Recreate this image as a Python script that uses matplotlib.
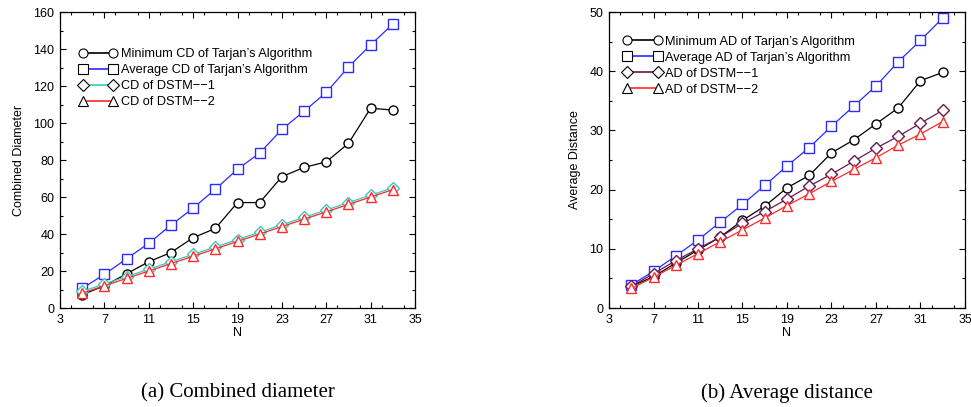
import matplotlib
matplotlib.use("Agg")
import matplotlib.pyplot as plt
from matplotlib.lines import Line2D
from matplotlib.legend_handler import HandlerTuple
from matplotlib.ticker import MultipleLocator

plt.rcParams["font.family"] = ["Liberation Sans", "DejaVu Sans"]

N = [5, 7, 9, 11, 13, 15, 17, 19, 21, 23, 25, 27, 29, 31, 33]
N_TICKS = [3, 7, 11, 15, 19, 23, 27, 31, 35]

# combined diameter
cd_min_tarjan = [7.2, 12, 18.5, 25, 30, 38, 43, 57, 57, 71, 76, 79, 89, 108, 107]
cd_avg_tarjan = [10.6, 18.2, 26.6, 35, 44.8, 54, 64.2, 75, 83.8, 96.5, 106.4, 116.5, 130.3, 142.2, 153.5]
cd_dstm1 = [9, 13, 17, 21, 25, 29, 33, 37, 41, 45, 49, 53, 57, 61, 65]
cd_dstm2 = [8, 12, 16, 20, 24, 28, 32, 36, 40, 44, 48, 52, 56, 60, 64]

# average distance
ad_min_tarjan = [3.65, 5.3, 7.6, 9.8, 12, 14.8, 17.2, 20.3, 22.4, 26.2, 28.4, 31.1, 33.8, 38.4, 39.8]
ad_avg_tarjan = [3.9, 6.2, 8.8, 11.5, 14.5, 17.5, 20.7, 24, 27.1, 30.7, 34.1, 37.5, 41.6, 45.2, 49]
ad_dstm1 = [3.65, 5.8, 8.0, 10, 12, 14.3, 16.3, 18.4, 20.6, 22.6, 24.8, 27, 29, 31.2, 33.4]
ad_dstm2 = [3.3, 5.2, 7.2, 9.2, 11.2, 13.2, 15.2, 17.3, 19.3, 21.4, 23.4, 25.4, 27.5, 29.4, 31.5]

BLUE = "#2b2bff"
CYAN = "#3cc8c0"
RED = "#ff2a2a"
PURPLE = "#6a1a4c"
MS = 6.5
LW = 0.9


def draw_panel(ax, series, ylabel, ymax, ymajor, legend_xy, caption):
    handles = []
    labels = []
    for values, color, marker, label in series:
        ax.plot(N, values, color=color, lw=LW, marker=marker, ms=MS,
                mfc="white", mec=color, mew=1.0)
        line = Line2D([], [], color=color, lw=1.2)
        mark = Line2D([], [], color="black", marker=marker, ms=MS,
                      mfc="white", mew=0.8, ls="none")
        handles.append((line, mark))
        labels.append(label)

    ax.set_xlim(3, 35)
    ax.set_ylim(0, ymax)
    ax.set_xticks(N_TICKS)
    ax.xaxis.set_minor_locator(MultipleLocator(2))
    ax.yaxis.set_major_locator(MultipleLocator(ymajor))
    ax.yaxis.set_minor_locator(MultipleLocator(ymajor / 2))
    ax.tick_params(which="both", direction="in", top=True, right=True,
                   labelsize=9, width=0.8, pad=4)
    ax.tick_params(which="major", length=4)
    ax.tick_params(which="minor", length=2)
    for s in ax.spines.values():
        s.set_linewidth(0.9)

    ax.set_xlabel("N", fontsize=9, labelpad=1)
    ax.set_ylabel(ylabel, fontsize=9, labelpad=6)

    ax.legend(handles, labels,
              handler_map={tuple: HandlerTuple(ndivide=1, pad=0)},
              numpoints=2, handlelength=3.0, handletextpad=0.3,
              labelspacing=0.32, frameon=False, fontsize=9.2,
              loc="upper left", bbox_to_anchor=legend_xy,
              borderaxespad=0, borderpad=0)

    ax.text(0.5, -0.255, caption, transform=ax.transAxes, ha="center",
            va="top", fontsize=15, family="Liberation Serif")


fig = plt.figure(figsize=(9.71, 4.07), dpi=100)
ax1 = fig.add_axes([0.0618, 0.2432, 0.3656, 0.7273])
ax2 = fig.add_axes([0.6272, 0.2432, 0.3666, 0.7273])

draw_panel(ax1, [
    (cd_min_tarjan, "black", "o", "Minimum CD of Tarjan\u2019s Algorithm"),
    (cd_avg_tarjan, BLUE, "s", "Average CD of Tarjan\u2019s Algorithm"),
    (cd_dstm1, CYAN, "D", "CD of DSTM\u2212\u22121"),
    (cd_dstm2, RED, "^", "CD of DSTM\u2212\u22122"),
], "Combined Diameter", 160, 20, (0.053, 0.878), "(a) Combined diameter")

draw_panel(ax2, [
    (ad_min_tarjan, "black", "o", "Minimum AD of Tarjan\u2019s Algorithm"),
    (ad_avg_tarjan, BLUE, "s", "Average AD of Tarjan\u2019s Algorithm"),
    (ad_dstm1, PURPLE, "D", "AD of DSTM\u2212\u22121"),
    (ad_dstm2, RED, "^", "AD of DSTM\u2212\u22122"),
], "Average Distance", 50, 10, (0.04, 0.92), "(b) Average distance")

fig.savefig("out.png", dpi=100)
